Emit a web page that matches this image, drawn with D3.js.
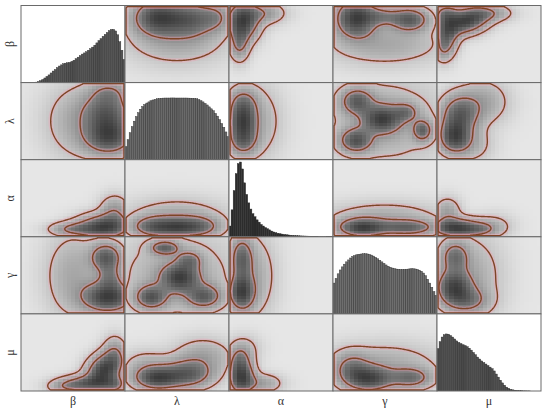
<!DOCTYPE html>
<html><head><meta charset="utf-8">
<script src="https://cdn.jsdelivr.net/npm/d3@7"></script>
<style>body{margin:0;background:#fff}</style>
</head><body>
<svg id="c" width="550" height="413"></svg>
<script>
// ---------- data ----------
const variables = ["β", "λ", "α", "γ", "μ"];

// marginal histograms (relative heights, 50 bins each)
const histBeta = [0,0,0,0,0,0,0.002,0.006,0.014,0.025,0.04,0.06,0.08,0.10,0.125,0.15,0.17,0.195,0.215,0.23,0.245,0.252,0.257,0.262,0.275,0.29,0.31,0.33,0.35,0.37,0.385,0.40,0.42,0.44,0.46,0.485,0.515,0.545,0.57,0.60,0.625,0.65,0.675,0.69,0.69,0.67,0.62,0.53,0.42,0.30];
const histLambda = [0.17,0.26,0.35,0.43,0.50,0.56,0.61,0.655,0.69,0.715,0.735,0.75,0.765,0.775,0.783,0.79,0.794,0.797,0.799,0.80,0.80,0.80,0.801,0.801,0.80,0.80,0.80,0.80,0.80,0.80,0.799,0.798,0.797,0.795,0.79,0.78,0.765,0.75,0.73,0.71,0.685,0.66,0.635,0.60,0.565,0.52,0.47,0.42,0.36,0.30];
const histAlpha = [0.14,0.35,0.60,0.82,0.95,0.97,0.88,0.70,0.55,0.44,0.36,0.30,0.26,0.22,0.19,0.16,0.14,0.12,0.105,0.09,0.075,0.063,0.054,0.046,0.04,0.035,0.03,0.027,0.024,0.021,0.019,0.017,0.015,0.013,0.012,0.011,0.010,0.009,0.008,0.007,0.006,0.005,0.005,0.004,0.004,0.003,0.003,0.002,0.002,0.001];
const histGamma = [0.40,0.46,0.52,0.57,0.61,0.645,0.675,0.70,0.725,0.745,0.757,0.767,0.773,0.777,0.78,0.78,0.778,0.772,0.763,0.75,0.733,0.715,0.695,0.675,0.655,0.635,0.618,0.605,0.595,0.588,0.582,0.579,0.577,0.577,0.578,0.58,0.583,0.585,0.585,0.583,0.577,0.567,0.553,0.53,0.495,0.45,0.40,0.345,0.29,0.24];
const histMu = [0.55,0.64,0.70,0.73,0.74,0.737,0.72,0.70,0.675,0.65,0.63,0.615,0.60,0.59,0.575,0.555,0.53,0.50,0.47,0.44,0.415,0.39,0.37,0.35,0.33,0.31,0.29,0.26,0.22,0.18,0.14,0.105,0.075,0.05,0.035,0.022,0.015,0.01,0.006,0.004,0.003,0.002,0.002,0.001,0.001,0,0,0,0,0];
const histograms = [histBeta, histLambda, histAlpha, histGamma, histMu];

// joint densities: blobs [centre a, centre b, spread a, spread b, correlation, weight]
const blobsBetaLambda = [[0.85,0.30,0.15,0.15,0,1.0],[0.83,0.62,0.15,0.17,0,0.8],[0.55,0.50,0.20,0.30,0,0.3],[0.85,0.88,0.12,0.10,0,0.35]];
const blobsBetaAlpha = [[0.80,0.13,0.16,0.10,0,1.0],[0.90,0.33,0.09,0.13,0,0.35],[0.50,0.10,0.14,0.06,0,0.45]];
const blobsBetaGamma = [[0.84,0.22,0.16,0.13,0,1.0],[0.82,0.74,0.10,0.12,0,0.75],[0.86,0.48,0.08,0.12,0,0.4],[0.50,0.50,0.17,0.35,0,0.25]];
const blobsBetaMu = [[0.80,0.28,0.11,0.14,0.3,1.0],[0.65,0.10,0.16,0.07,0,0.6],[0.90,0.50,0.07,0.14,0,0.3],[0.45,0.06,0.12,0.06,0,0.3],[0.90,0.08,0.08,0.08,0,0.4]];
const blobsLambdaAlpha = [[0.30,0.13,0.15,0.09,0,1.0],[0.68,0.13,0.15,0.09,0,0.9],[0.50,0.13,0.10,0.08,0,0.4],[0.50,0.27,0.30,0.15,0,0.3]];
const blobsLambdaGamma = [[0.25,0.22,0.10,0.10,0,0.9],[0.53,0.47,0.12,0.12,0,1.0],[0.76,0.23,0.11,0.10,0,0.8],[0.38,0.86,0.09,0.06,0,0.75],[0.62,0.70,0.08,0.08,0,0.5],[0.50,0.50,0.35,0.35,0,0.3]];
const blobsLambdaMu = [[0.30,0.17,0.14,0.10,0,1.0],[0.60,0.22,0.16,0.12,0,0.8],[0.75,0.45,0.18,0.15,0,0.3],[0.20,0.35,0.15,0.12,0,0.2]];
const blobsAlphaGamma = [[0.12,0.28,0.08,0.15,0,1.0],[0.12,0.72,0.07,0.18,0,0.7],[0.25,0.50,0.13,0.35,0,0.25]];
const blobsAlphaMu = [[0.12,0.17,0.08,0.14,0,1.0],[0.10,0.40,0.07,0.12,0,0.45],[0.32,0.10,0.12,0.08,0,0.3],[0.15,0.55,0.10,0.12,0,0.15]];
const blobsGammaMu = [[0.35,0.16,0.15,0.11,0,1.0],[0.75,0.17,0.13,0.09,0,0.65],[0.18,0.30,0.11,0.13,0,0.5],[0.50,0.35,0.35,0.18,0,0.25]];

const pairs = [
  {a:0, b:1, blobs: blobsBetaLambda},
  {a:0, b:2, blobs: blobsBetaAlpha},
  {a:0, b:3, blobs: blobsBetaGamma},
  {a:0, b:4, blobs: blobsBetaMu},
  {a:1, b:2, blobs: blobsLambdaAlpha},
  {a:1, b:3, blobs: blobsLambdaGamma},
  {a:1, b:4, blobs: blobsLambdaMu},
  {a:2, b:3, blobs: blobsAlphaGamma},
  {a:2, b:4, blobs: blobsAlphaMu},
  {a:3, b:4, blobs: blobsGammaMu}
];
const contourLevels = [0.10, 0.40]; // fraction of panel maximum

// ---------- layout / style ----------
const plotLeft = 21, plotRight = 541, plotTop = 5.5, plotBottom = 391;
const histFill = ["#555", "#6a6a6a", "#2c2c2c", "#6e6e6e", "#505050"];
const bgGray = "#e6e6e6", darkGray = "#3a3a3a";
const contourColor = "#7e4426";
const rasterN = 25;

const svg = d3.select("#c");
const n = variables.length;
const colScale = d3.scaleLinear().domain([0, n]).range([plotLeft, plotRight]);
const rowScale = d3.scaleLinear().domain([0, n]).range([plotTop, plotBottom]);
const grayScale = d3.scaleLinear().domain([0, 1]).range([bgGray, darkGray]).interpolate(d3.interpolateRgb);

function blobDensity(blobs, a, b) {
  let s = 0;
  for (const [cx, cy, sx, sy, rho, w] of blobs) {
    const dx = (a - cx) / sx, dy = (b - cy) / sy;
    const q = (dx * dx - 2 * rho * dx * dy + dy * dy) / (1 - rho * rho);
    s += w * Math.exp(-0.5 * q);
  }
  return s;
}
function densityFor(r, c) {
  const lo = Math.min(r, c), hi = Math.max(r, c);
  const p = pairs.find(d => d.a === lo && d.b === hi);
  if (c === p.a) return (u, v) => blobDensity(p.blobs, u, v);
  return (u, v) => blobDensity(p.blobs, v, u);
}

const defs = svg.append("defs");

for (let r = 0; r < n; r++) {
  for (let c = 0; c < n; c++) {
    const x0 = colScale(c), x1 = colScale(c + 1), y0 = rowScale(r), y1 = rowScale(r + 1);
    const pw = x1 - x0, ph = y1 - y0;
    const xs = d3.scaleLinear().domain([0, 1]).range([x0, x1]);
    const ys = d3.scaleLinear().domain([0, 1]).range([y1, y0]);
    const id = `clip${r}${c}`;
    defs.append("clipPath").attr("id", id).append("rect")
      .attr("x", x0).attr("y", y0).attr("width", pw).attr("height", ph);
    const g = svg.append("g").attr("clip-path", `url(#${id})`);

    if (r === c) {
      g.append("rect").attr("x", x0).attr("y", y0).attr("width", pw).attr("height", ph).attr("fill", "#fff");
      const vals = histograms[r];
      const xb = d3.scaleBand().domain(d3.range(vals.length)).range([x0, x1]).padding(0);
      const yh = d3.scaleLinear().domain([0, 1]).range([y1, y0]);
      g.selectAll("rect.bar").data(vals).enter().append("rect")
        .attr("class", "bar")
        .attr("x", (d, i) => xb(i))
        .attr("width", xb.bandwidth())
        .attr("y", d => yh(d))
        .attr("height", d => y1 - yh(d))
        .attr("fill", histFill[r])
        .attr("stroke", "#2a2a2a")
        .attr("stroke-width", 0.4);
    } else {
      const f = densityFor(r, c);
      g.append("rect").attr("x", x0).attr("y", y0).attr("width", pw).attr("height", ph).attr("fill", bgGray);
      const inset = 1.5;
      const nx = 105, ny = 78;
      const stepx = (pw - 2 * inset) / (nx - 1), stepy = (ph - 2 * inset) / (ny - 1);
      const values = new Array(nx * ny);
      let mx = 0;
      for (let j = 0; j < ny; j++) {
        for (let i = 0; i < nx; i++) {
          const u = (inset + i * stepx) / pw;
          const v = 1 - (inset + j * stepy) / ph;
          const val = f(u, v);
          values[j * nx + i] = val;
          if (val > mx) mx = val;
        }
      }
      const cells = [];
      for (let j = 0; j < rasterN; j++) for (let i = 0; i < rasterN; i++) {
        const u = (i + 0.5) / rasterN, v = (j + 0.5) / rasterN;
        cells.push({i, j, z: Math.min(1, f(u, v) / mx)});
      }
      g.selectAll("rect.cell").data(cells).enter().append("rect")
        .attr("class", "cell")
        .attr("x", d => xs(d.i / rasterN))
        .attr("y", d => ys((d.j + 1) / rasterN))
        .attr("width", d => xs((d.i + 1) / rasterN) - xs(d.i / rasterN) + 0.4)
        .attr("height", d => ys(d.j / rasterN) - ys((d.j + 1) / rasterN) + 0.4)
        .attr("fill", d => grayScale(Math.pow(d.z, 0.7)))
        .attr("shape-rendering", "crispEdges");
      const conts = d3.contours().size([nx, ny]).thresholds(contourLevels.map(l => l * mx))(values);
      const proj = d3.geoTransform({
        point: function(px, py) {
          this.stream.point(x0 + inset + (px - 0.5) * stepx, y0 + inset + (py - 0.5) * stepy);
        }
      });
      const path = d3.geoPath(proj);
      g.selectAll("path.halo").data(conts).enter().append("path")
        .attr("class", "halo").attr("d", path).attr("fill", "none")
        .attr("stroke", "#ff9ab2").attr("stroke-opacity", 0.3).attr("stroke-width", 4.5)
        .attr("stroke-linejoin", "round");
      g.selectAll("path.cont").data(conts).enter().append("path")
        .attr("class", "cont").attr("d", path).attr("fill", "none")
        .attr("stroke", contourColor).attr("stroke-width", 1.4)
        .attr("stroke-linejoin", "round");
    }
    svg.append("rect").attr("x", x0).attr("y", y0).attr("width", pw).attr("height", ph)
      .attr("fill", "none").attr("stroke", "#6a6a6a").attr("stroke-width", 1);
  }
}

const labelFont = "'Liberation Serif', 'DejaVu Serif', serif";
svg.selectAll("text.xl").data(variables).enter().append("text")
  .attr("class", "xl")
  .attr("x", (d, i) => (colScale(i) + colScale(i + 1)) / 2)
  .attr("y", 405)
  .attr("text-anchor", "middle")
  .attr("font-family", labelFont).attr("font-size", 12).attr("fill", "#333")
  .text(d => d);
svg.selectAll("text.yl").data(variables).enter().append("text")
  .attr("class", "yl")
  .attr("transform", (d, i) => `translate(14,${(rowScale(i) + rowScale(i + 1)) / 2}) rotate(-90)`)
  .attr("text-anchor", "middle")
  .attr("font-family", labelFont).attr("font-size", 12).attr("fill", "#333")
  .text(d => d);
</script>
</body></html>
